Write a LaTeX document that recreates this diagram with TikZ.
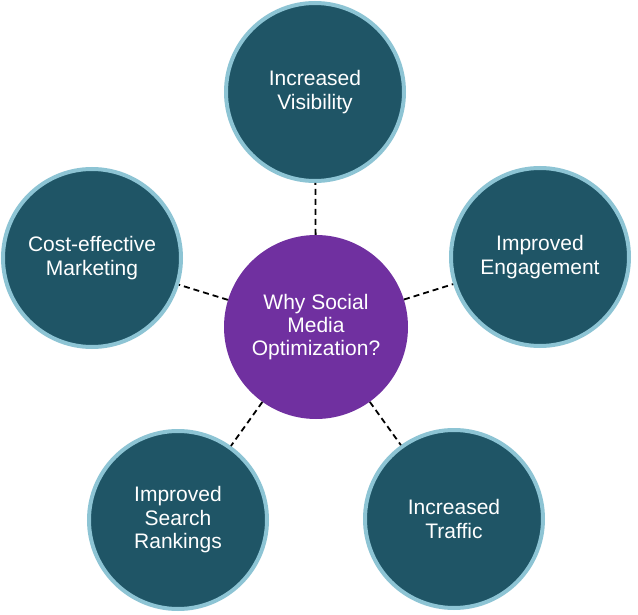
\documentclass[tikz,border=0pt]{standalone}
\usepackage{fontspec}
\setmainfont{Liberation Sans}
\definecolor{tealfill}{HTML}{1F5566}
\definecolor{ringblue}{HTML}{8DC4D4}
\definecolor{purplefill}{HTML}{7030A0}
\tikzset{
  outer/.style={circle, fill=tealfill, draw=ringblue, line width=4pt, minimum size=178pt, inner sep=0pt,
    text=white, align=center, font=\fontsize{21}{23.5}\selectfont},
  hub/.style={circle, fill=purplefill, minimum size=184pt, inner sep=0pt,
    text=white, align=center, font=\fontsize{21}{23}\selectfont},
  link/.style={draw=black, line width=1.8pt, dash pattern=on 6pt off 4pt}
}
\begin{document}
\begin{tikzpicture}[x=1pt,y=-1pt]
\useasboundingbox (0,0) rectangle (638,615);
\node[hub] (c) at (316,327) {Why Social\\Media\\Optimization?};
\node[outer] (t) at (315,92) {Increased\\Visibility};
\node[outer] (l) at (92,258) {Cost-effective\\Marketing};
\node[outer] (r) at (540,257) {Improved\\Engagement};
\node[outer] (bl) at (178,520) {Improved\\Search\\Rankings};
\node[outer] (br) at (454,519) {Increased\\Traffic};
\foreach \n in {t,l,r,bl,br}{
  \draw[link] (c) -- (\n);
}
\end{tikzpicture}
\end{document}
